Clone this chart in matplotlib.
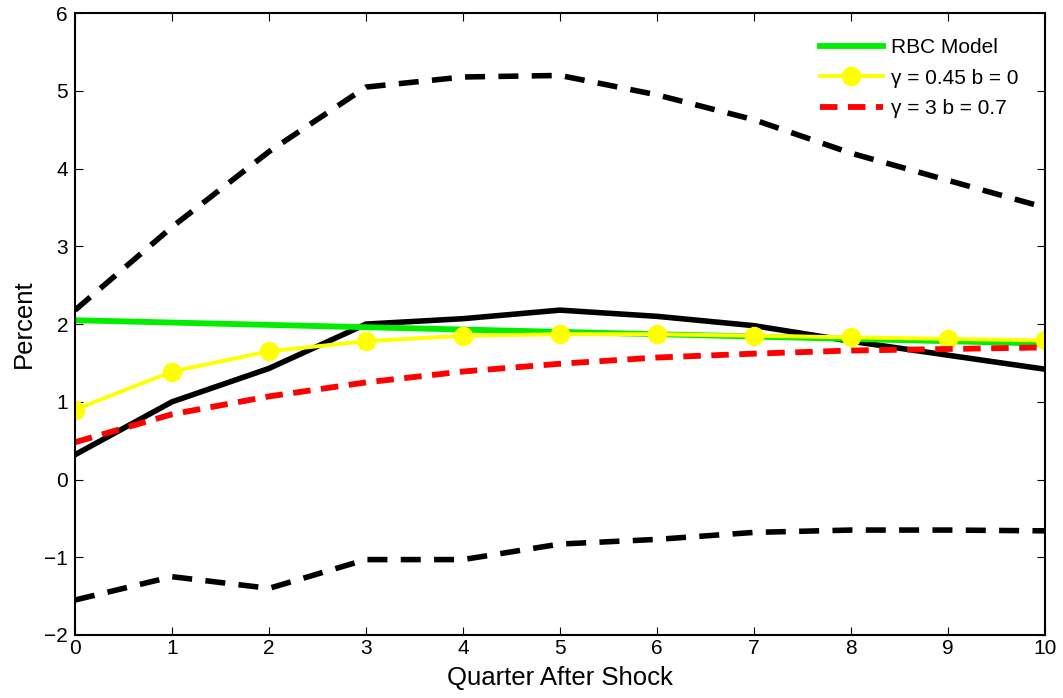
import matplotlib
matplotlib.use("Agg")
import matplotlib.pyplot as plt

quarters = [0, 1, 2, 3, 4, 5, 6, 7, 8, 9, 10]
rbc = [2.05, 2.02, 1.99, 1.96, 1.93, 1.90, 1.87, 1.84, 1.81, 1.78, 1.75]
habit0 = [0.90, 1.39, 1.65, 1.78, 1.85, 1.87, 1.87, 1.85, 1.83, 1.81, 1.79]
habit7 = [0.48, 0.84, 1.07, 1.25, 1.39, 1.49, 1.57, 1.62, 1.66, 1.68, 1.70]
data_irf = [0.32, 1.00, 1.43, 2.00, 2.07, 2.18, 2.10, 1.98, 1.78, 1.60, 1.42]
upper = [2.18, 3.25, 4.22, 5.05, 5.18, 5.20, 4.95, 4.63, 4.20, 3.85, 3.50]
lower = [-1.55, -1.25, -1.40, -1.03, -1.03, -0.83, -0.77, -0.68, -0.65, -0.65, -0.66]

plt.rcParams['font.family'] = ['Liberation Sans', 'DejaVu Sans']
fig = plt.figure(figsize=(10.63, 6.98), dpi=100)
ax = fig.add_axes([0.0706, 0.0903, 0.9124, 0.8907])

ax.plot(quarters, upper, color='black', lw=4.0, dashes=(3.6, 2.4))
ax.plot(quarters, lower, color='black', lw=4.0, dashes=(3.6, 2.4))
ax.plot(quarters, data_irf, color='black', lw=4.0)
l1, = ax.plot(quarters, rbc, color='#00ee00', lw=4.2, label='RBC Model')
l2, = ax.plot(quarters, habit0, color='#ffff00', lw=2.8, marker='o', markersize=13,
              markerfacecolor='#ffff00', markeredgecolor='#ffff00', label='γ = 0.45 b = 0')
l3, = ax.plot(quarters, habit7, color='#ff0000', lw=4.2, dashes=(3.0, 1.8), label='γ = 3 b = 0.7')

ax.set_xlim(0, 10)
ax.set_ylim(-2, 6)
ax.set_xticks(range(0, 11))
ax.set_yticks(range(-2, 7))
ax.set_yticklabels(['\u22122', '\u22121', '0', '1', '2', '3', '4', '5', '6'])
ax.tick_params(direction='in', length=6, width=0.8, labelsize=15, top=True, right=True,
               labeltop=False, labelright=False)
ax.tick_params(axis='x', pad=3)
ax.tick_params(axis='y', pad=5)
for s in ax.spines.values():
    s.set_linewidth(1.5)
ax.set_xlabel('Quarter After Shock', fontsize=18.5, labelpad=6)
ax.set_ylabel('Percent', fontsize=18.5, labelpad=6)

leg = ax.legend(handles=[l1, l2, l3], loc='upper right', frameon=False, fontsize=15,
                handlelength=3.0, handletextpad=0.4, labelspacing=0.55,
                bbox_to_anchor=(0.992, 0.99), borderaxespad=0.5)

fig.savefig('out.png', dpi=100)
